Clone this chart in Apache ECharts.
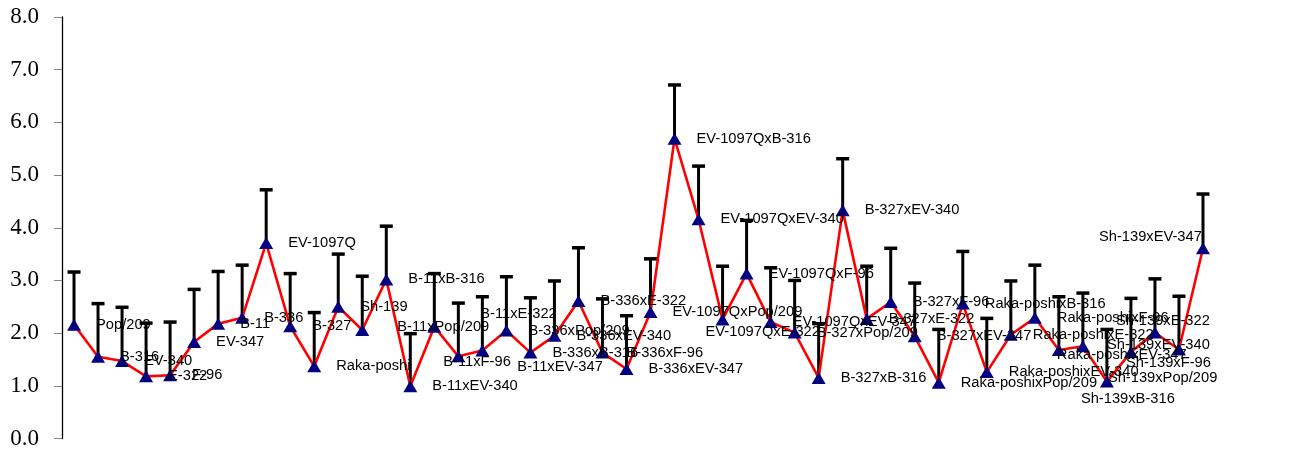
<!DOCTYPE html>
<html>
<head>
<meta charset="utf-8">
<script src="https://cdn.jsdelivr.net/npm/echarts@6/dist/echarts.min.js"></script>
<style>
  html, body { margin: 0; padding: 0; background: #fff; }
  #chart { width: 1289px; height: 450px; }
</style>
</head>
<body>
<div id="chart"></div>
<script>
// genotypes: parents first, then crosses
var genotypes = [
  'Pop/209', 'B-316', 'EV-340', 'E-322', 'F-96', 'EV-347',
  'B-11', 'B-336', 'EV-1097Q', 'B-327', 'Raka-poshi', 'Sh-139',
  'B-11xPop/209', 'B-11xB-316', 'B-11xEV-340', 'B-11xE-322', 'B-11xF-96', 'B-11xEV-347',
  'B-336xPop/209', 'B-336xB-316', 'B-336xEV-340', 'B-336xE-322', 'B-336xF-96', 'B-336xEV-347',
  'EV-1097QxPop/209', 'EV-1097QxB-316', 'EV-1097QxEV-340', 'EV-1097QxE-322', 'EV-1097QxF-96', 'EV-1097QxEV-347',
  'B-327xPop/209', 'B-327xB-316', 'B-327xEV-340', 'B-327xE-322', 'B-327xF-96', 'B-327xEV-347',
  'Raka-poshixPop/209', 'Raka-poshixB-316', 'Raka-poshixEV-340', 'Raka-poshixE-322', 'Raka-poshixF-96', 'Raka-poshixEV-347',
  'Sh-139xPop/209', 'Sh-139xB-316', 'Sh-139xEV-340', 'Sh-139xE-322', 'Sh-139xF-96', 'Sh-139xEV-347'
];

// mean values
var means = [
  2.16, 1.55, 1.47, 1.18, 1.20, 1.83,
  2.18, 2.29, 3.71, 2.13, 1.37, 2.50,
  2.06, 3.02, 0.99, 2.12, 1.56, 1.67,
  2.05, 1.63, 1.95, 2.61, 1.63, 1.32,
  2.40, 5.69, 4.16, 2.26, 3.13, 2.21,
  2.01, 1.15, 4.33, 2.27, 2.59, 1.94,
  1.06, 2.56, 1.26, 1.97, 2.29, 1.68,
  1.75, 1.08, 1.64, 2.01, 1.69, 3.61
];

// top of the error bars
var upper = [
  3.16, 2.56, 2.49, 2.19, 2.21, 2.83,
  3.17, 3.29, 4.72, 3.13, 2.39, 3.50,
  3.08, 4.03, 1.99, 3.13, 2.57, 2.69,
  3.07, 2.67, 2.99, 3.62, 2.65, 2.33,
  3.41, 6.71, 5.17, 3.27, 4.14, 3.24,
  3.00, 2.18, 5.31, 3.27, 3.61, 2.95,
  2.07, 3.55, 2.28, 2.99, 3.29, 2.69,
  2.76, 2.07, 2.66, 3.03, 2.70, 4.64
];

var yTicks = [0, 1, 2, 3, 4, 5, 6, 7, 8];

// label nudges (px) for the few labels that were dragged off the default spot
var labelMoves = {
  12: [35, -3], 15: [46, -13], 16: [-15, 6], 17: [35, 16],
  22: [24, 0], 27: [-17, 13], 41: [-2, 5],
  42: [25, 32], 43: [-26, 17], 44: [-24, -7], 45: [-39, -12], 46: [-53, 13], 47: [-104, -11]
};

var chart = echarts.init(document.getElementById('chart'));

var lineData = means.map(function (v, i) {
  var off = labelMoves[i] || [22, 0];
  return { value: v, label: { offset: off } };
});

var barData = means.map(function (v, i) {
  return [i, v, upper[i]];
});

function renderErrorBar(params, api) {
  var idx = api.value(0);
  var lo = api.coord([idx, api.value(1)]);
  var hi = api.coord([idx, api.value(2)]);
  var cap = 6.5;
  return {
    type: 'group',
    children: [
      { type: 'line', shape: { x1: lo[0], y1: lo[1], x2: hi[0], y2: hi[1] }, style: { stroke: '#000', lineWidth: 3 } },
      { type: 'line', shape: { x1: hi[0] - cap, y1: hi[1], x2: hi[0] + cap, y2: hi[1] }, style: { stroke: '#000', lineWidth: 3.5 } }
    ]
  };
}

var option = {
  animation: false,
  backgroundColor: '#fff',
  grid: { left: 62, right: 74, top: 17, bottom: 11 },
  xAxis: {
    type: 'category',
    data: genotypes,
    boundaryGap: true,
    axisLine: { show: false },
    axisTick: { show: false },
    axisLabel: { show: false },
    splitLine: { show: false }
  },
  yAxis: {
    type: 'value',
    min: yTicks[0],
    max: yTicks[yTicks.length - 1],
    interval: 1,
    axisLine: { show: true, lineStyle: { color: '#000', width: 1.3 } },
    axisTick: { show: true, length: 8, lineStyle: { color: '#888' } },
    splitLine: { show: false },
    axisLabel: {
      margin: 23,
      color: '#000',
      fontFamily: 'Liberation Serif',
      fontSize: 23,
      formatter: function (v) { return v.toFixed(1); }
    }
  },
  series: [
    {
      type: 'custom',
      renderItem: renderErrorBar,
      data: barData,
      encode: { x: 0, y: [1, 2] },
      z: 1,
      silent: true
    },
    {
      type: 'line',
      data: lineData,
      z: 3,
      symbol: 'triangle',
      symbolSize: [14, 12],
      showAllSymbol: true,
      lineStyle: { color: '#ff0000', width: 2.6 },
      itemStyle: { color: '#000080' },
      label: {
        show: true,
        position: 'inside',
        align: 'left',
        verticalAlign: 'middle',
        color: '#000',
        fontFamily: 'Liberation Sans',
        fontSize: 14.7,
        formatter: function (p) { return p.name; }
      }
    }
  ]
};

chart.setOption(option);
</script>
</body>
</html>
